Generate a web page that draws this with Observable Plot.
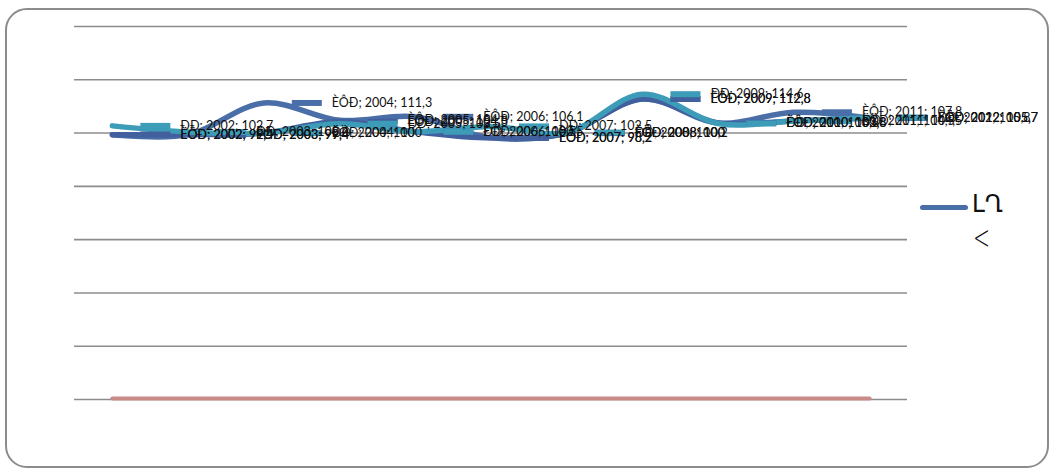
<!DOCTYPE html>
<html>
<head>
<meta charset="utf-8">
<script src="https://cdn.jsdelivr.net/npm/d3@7"></script>
<script src="https://cdn.jsdelivr.net/npm/@observablehq/plot@0.6"></script>
<style>
  html, body { margin: 0; padding: 0; background: #fff; }
  body { width: 1051px; height: 470px; position: relative; overflow: hidden; font-family: Lato, "DejaVu Sans", sans-serif; }
  #frame { position: absolute; left: 5px; top: 8px; width: 1040px; height: 456px; border: 2px solid #8c8c8c; border-radius: 22px; }
  #chart { position: absolute; left: 0; top: 0; }
  #legend { position: absolute; left: 920px; top: 190px; }
  #legend .sw { position: absolute; left: 0; top: 15px; width: 48px; height: 5px; background: #4a6fa8; border-radius: 3px; }
  #legend .t1 { position: absolute; left: 52px; top: 0px; font-size: 24px; color: #111; white-space: nowrap; font-family: "DejaVu Sans", sans-serif; }
  #legend .t2 { position: absolute; left: 53px; top: 30px; font-size: 34px; line-height: 34px; color: #111; font-family: "DejaVu Sans", sans-serif; font-weight: 200; transform: scaleX(0.6); transform-origin: left top; }
</style>
</head>
<body>
<div id="frame"></div>
<div id="chart"></div>
<div id="legend"><div class="sw"></div><div class="t1">ԼՂ</div><div class="t2">&lt;</div></div>
<script>
const years = [2002, 2003, 2004, 2005, 2006, 2007, 2008, 2009, 2010, 2011, 2012];
const seriesNames = ["ÈÔÐ", "ËÖÐ", "ÐÐ", "ԼՂ"];
const valuesIFR = [99.4, 99.4, 111.3, 104.8, 106.1, 98.2, 100.0, 112.8, 103.8, 107.8, 105.7];
const valuesLCR = [99.4, 99.4, 100.0, 104.3, 100.5, 98.2, 100.0, 112.8, 103.8, 104.5, 105.7];
const valuesRR  = [102.7, 100.4, 100.0, 103.5, 100.5, 102.5, 100.2, 114.6, 103.6, 104.5, 105.8];
const valuesBase = [0, 0, 0, 0, 0, 0, 0, 0, 0, 0, 0];
const yTicks = [0, 20, 40, 60, 80, 100, 120, 140];
const colors = ["#4a6fa8", "#42609e", "#3d9cb8", "#c98a88"];

const allValues = [valuesIFR, valuesLCR, valuesRR, valuesBase];
const data = [];
allValues.forEach((vals, s) => vals.forEach((v, i) => data.push({series: seriesNames[s], year: years[i], value: v})));
const labeled = data.filter(d => d.series !== "ԼՂ");

const dash = { draw(ctx) { ctx.moveTo(-15, 0); ctx.lineTo(15, 0); } };
const fmt = v => String(v).replace(".", ",");

const chart = Plot.plot({
  width: 1051,
  height: 470,
  marginLeft: 74,
  marginRight: 144,
  marginTop: 26,
  marginBottom: 71,
  x: { domain: [2001.5, 2012.5], axis: null },
  y: { domain: [0, 140], axis: null },
  color: { domain: seriesNames, range: colors },
  style: { background: "transparent", fontFamily: "Lato, 'DejaVu Sans', sans-serif" },
  marks: [
    Plot.ruleY(yTicks, { stroke: "#8c8c8c", strokeWidth: 1.6 }),
    Plot.line(data.filter(d => d.series !== "ԼՂ"), { x: "year", y: "value", z: "series", stroke: "series", strokeWidth: 5.5, curve: "catmull-rom", strokeLinecap: "round" }),
    Plot.line(data.filter(d => d.series === "ԼՂ"), { x: "year", y: "value", stroke: "series", strokeWidth: 4, dy: -1 }),
    Plot.dot(labeled, { x: "year", y: "value", symbol: dash, stroke: "series", strokeWidth: 6, dx: 43, r: 4 }),
    Plot.text(labeled, { x: "year", y: "value", text: d => `${d.series}; ${d.year}; ${fmt(d.value)}`, dx: 68, textAnchor: "start", fontSize: 12.5, fill: "#111" })
  ]
});
document.getElementById("chart").appendChild(chart);
</script>
</body>
</html>
